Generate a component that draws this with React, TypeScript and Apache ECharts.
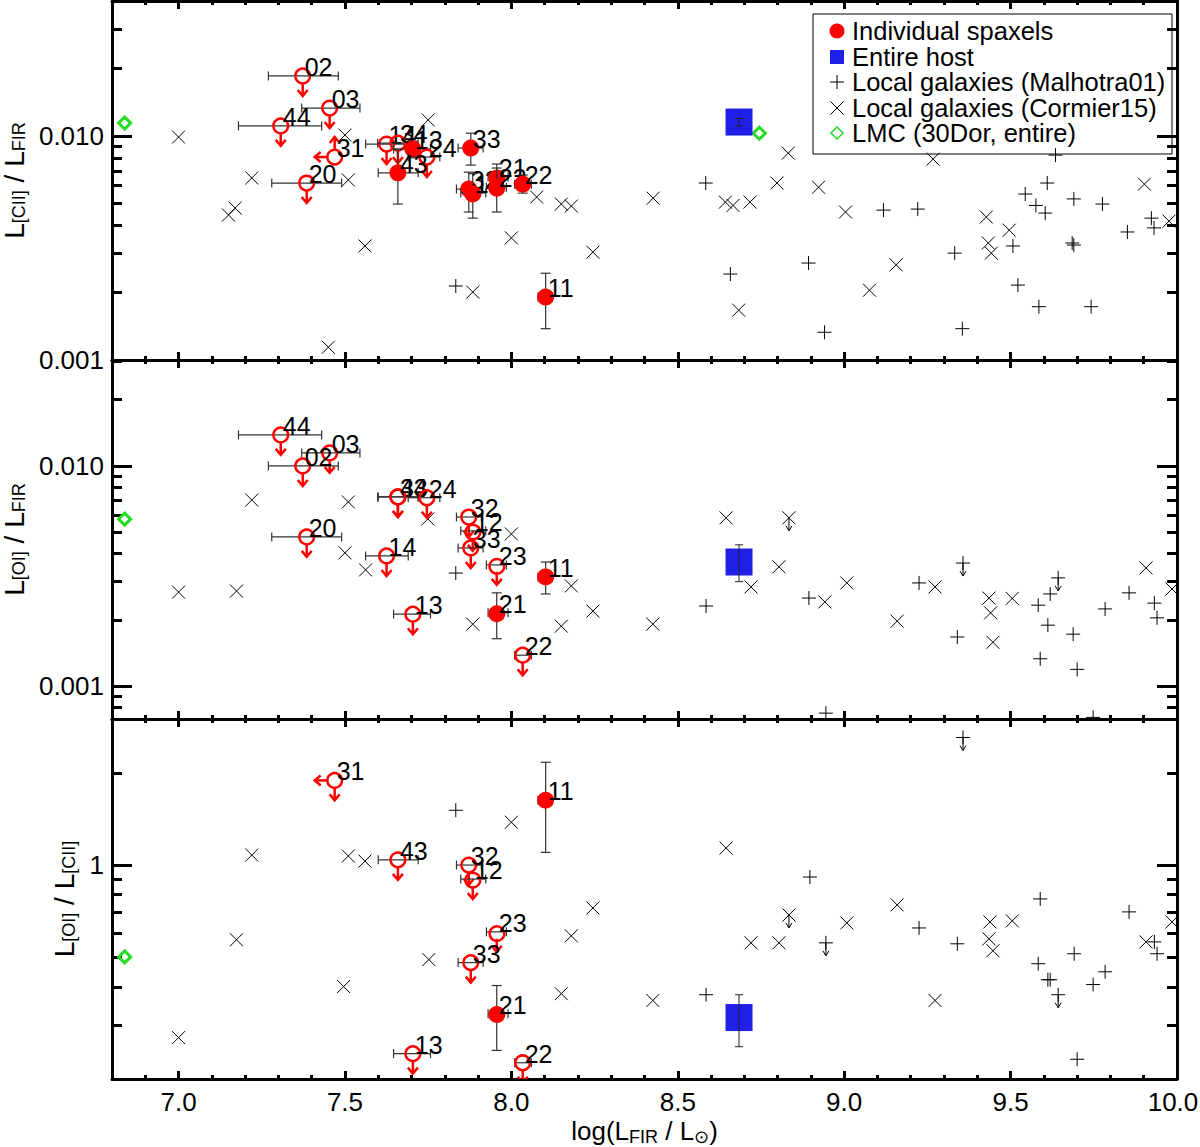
import React, { useEffect, useRef } from "react";
import * as echarts from "echarts";

// ---------------- ticks / ranges ----------------
const xRange = [6.8, 10.0];
const xMajorTicks = [7.0, 7.5, 8.0, 8.5, 9.0, 9.5, 10.0];
const xMinorTicks = [6.9, 7.1, 7.2, 7.3, 7.4, 7.6, 7.7, 7.8, 7.9, 8.1, 8.2, 8.3, 8.4, 8.6, 8.7, 8.8, 8.9, 9.1, 9.2, 9.3, 9.4, 9.6, 9.7, 9.8, 9.9];

const ciiFirRange = [0.001, 0.0401];
const oiFirRange = [0.000708, 0.0303];
const oiCiiRange = [0.2, 3.0];
const ratioMajorTicks = [0.001, 0.01];
const ratioMinorTicks = [0.0008, 0.0009, 0.002, 0.003, 0.004, 0.005, 0.006, 0.007, 0.008, 0.009, 0.02, 0.03];
const oiCiiMajorTicks = [1];
const oiCiiMinorTicks = [0.3, 0.4, 0.5, 0.6, 0.7, 0.8, 0.9, 2];

// ---------------- spaxels (log L_FIR) ----------------
const spaxelIds = ["02", "03", "11", "12", "13", "14", "20", "21", "22", "23", "24", "31", "32", "33", "34", "43", "44"];
const spaxelLogLfir = [7.373, 7.454, 8.103, 7.884, 7.704, 7.625, 7.385, 7.956, 8.034, 7.956, 7.746, 7.469, 7.872, 7.878, 7.659, 7.659, 7.307];
const spaxelLfirLo = [7.27, 7.37, 8.08, 7.848, 7.646, 7.562, 7.28, 7.93, 8.01, 7.925, 7.69, null, 7.835, 7.84, 7.598, 7.6, 7.18];
const spaxelLfirHi = [7.48, 7.545, 8.12, 7.923, 7.757, 7.69, 7.49, 7.99, 8.06, 7.985, 7.785, null, 7.91, 7.915, 7.72, 7.72, 7.43];

// L[CII]/L_FIR
const ciiFirIds = ["02", "03", "44", "31", "20", "14", "34", "13", "24", "43", "33", "32", "12", "21", "23", "22", "11"];
const ciiFirVals = [0.01855, 0.01334, 0.0111, 0.00806, 0.00617, 0.00921, 0.0093, 0.00875, 0.00806, 0.00685, 0.00884, 0.0058, 0.00557, 0.00656, 0.00591, 0.0061, 0.00191];
const ciiFirKind = ["ul", "ul", "ul", "ll_xul", "ul", "ul", "ul", "det", "ul", "det", "det", "det", "det", "det", "det", "det", "det"];
const ciiFirErrLo = [null, null, null, null, null, null, null, 0.008, null, 0.00497, 0.00742, 0.00458, 0.0043, 0.0057, 0.00458, 0.00556, 0.00138];
const ciiFirErrHi = [null, null, null, null, null, null, null, 0.0095, null, 0.00873, 0.0103, 0.0069, 0.0068, 0.0075, 0.0072, 0.0067, 0.00244];

// L[OI]/L_FIR
const oiFirIds = ["44", "03", "02", "34", "43", "24", "20", "32", "12", "33", "14", "23", "11", "13", "21", "22"];
const oiFirVals = [0.01384, 0.01146, 0.01, 0.00723, 0.00723, 0.00717, 0.00476, 0.00586, 0.00507, 0.00424, 0.0039, 0.00355, 0.00313, 0.00212, 0.00215, 0.00138];
const oiFirKind = ["ul", "ul", "ul", "ul", "ul", "ul", "ul", "ul", "ul", "ul", "ul", "ul", "det", "ul", "det", "ul"];
const oiFirErrLo = [null, null, null, null, null, null, null, null, null, null, null, null, 0.00262, null, 0.00164, null];
const oiFirErrHi = [null, null, null, null, null, null, null, null, null, null, null, null, 0.00366, null, 0.00265, null];

// L[OI]/L[CII]
const oiCiiIds = ["31", "43", "32", "12", "11", "23", "33", "21", "13", "22"];
const oiCiiVals = [1.89, 1.04, 1.0, 0.9, 1.628, 0.605, 0.48, 0.327, 0.242, 0.226];
const oiCiiKind = ["ul_xul", "ul", "ul", "ul", "det", "ul", "ul", "det", "ul", "ul"];
const oiCiiErrLo = [null, null, null, null, 1.1, null, null, 0.248, null, null];
const oiCiiErrHi = [null, null, null, null, 2.166, null, null, 0.404, null, null];

// ---------------- entire host ----------------
const hostLogLfir = 8.684;
const hostVals = [0.01155, 0.00366, 0.3175];
const hostErrLo = [0.0111, 0.00298, 0.255];
const hostErrHi = [0.012, 0.00438, 0.377];

// ---------------- LMC (30Dor) ----------------
const lmcCiiFir = [[6.838, 0.01143], [8.745, 0.0103]];
const lmcOiFir = [[6.838, 0.00573]];
const lmcOiCii = [[6.838, 0.501]];

// ---------------- Cormier15 (x, y, upper limit) ----------------
const corCiiFir = [
  [7.0, 0.0099, 0], [7.22, 0.0065, 0], [7.17, 0.00477, 0], [7.15, 0.00444, 0], [7.5, 0.0101, 0], [7.51, 0.00637, 0],
  [7.56, 0.00323, 0], [7.45, 0.00114, 0], [7.75, 0.0118, 0], [8.076, 0.00534, 0], [8.15, 0.00497, 0], [8.18, 0.00487, 0],
  [8.0, 0.00351, 0], [8.245, 0.00303, 0], [7.884, 0.00201, 0], [8.426, 0.00528, 0], [8.643, 0.00507, 0], [8.666, 0.0049, 0],
  [8.717, 0.00507, 0], [8.798, 0.00617, 0], [8.832, 0.00839, 0], [8.923, 0.00591, 0], [9.004, 0.00458, 0], [8.683, 0.00167, 0],
  [9.076, 0.00205, 0], [9.156, 0.00266, 0], [9.267, 0.00789, 0], [9.427, 0.00435, 0], [9.496, 0.0038, 0], [9.433, 0.00333, 0],
  [9.442, 0.003, 0], [9.902, 0.0061, 0], [9.976, 0.00417, 0],
];
const corOiFir = [
  [7.22, 0.007, 0], [7.51, 0.00686, 0], [7.0, 0.00267, 0], [7.174, 0.0027, 0], [7.5, 0.00403, 0], [7.562, 0.00337, 0],
  [7.749, 0.00574, 0], [8.0, 0.00491, 0], [8.18, 0.00285, 0], [8.245, 0.00219, 0], [7.884, 0.00191, 0], [8.15, 0.00187, 0],
  [8.425, 0.00191, 0], [8.645, 0.00581, 0], [8.834, 0.00581, 1], [8.804, 0.00348, 0], [8.72, 0.00282, 0], [8.942, 0.00241, 0],
  [9.008, 0.00294, 0], [9.159, 0.00197, 0], [9.273, 0.00282, 0], [9.435, 0.00251, 0], [9.44, 0.00215, 0], [9.447, 0.00158, 0],
  [9.505, 0.0025, 0], [9.907, 0.00344, 0], [9.985, 0.00276, 0],
];
const corOiCii = [
  [7.22, 1.078, 0], [7.51, 1.07, 0], [7.56, 1.03, 0], [7.174, 0.57, 0], [7.496, 0.401, 0], [7.0, 0.273, 0],
  [8.0, 1.38, 0], [7.752, 0.491, 0], [8.245, 0.724, 0], [8.18, 0.587, 0], [8.15, 0.38, 0], [8.425, 0.361, 0],
  [8.645, 1.136, 0], [8.834, 0.687, 1], [8.72, 0.557, 0], [8.804, 0.557, 0], [9.008, 0.647, 0], [9.159, 0.741, 0],
  [9.273, 0.361, 0], [9.438, 0.652, 0], [9.435, 0.574, 0], [9.447, 0.525, 0], [9.505, 0.657, 0], [9.907, 0.561, 0],
  [9.985, 0.652, 0],
];

// ---------------- Malhotra01 (x, y, upper limit) ----------------
const malCiiFir = [
  [7.833, 0.00214, 0], [8.584, 0.00617, 0], [8.658, 0.00242, 0], [8.893, 0.00271, 0], [8.941, 0.00133, 0], [9.118, 0.00467, 0],
  [9.221, 0.00472, 0], [9.332, 0.003, 0], [9.355, 0.00138, 0], [9.507, 0.00323, 0], [9.522, 0.00216, 0], [9.544, 0.00551, 0],
  [9.576, 0.0049, 0], [9.604, 0.00453, 0], [9.61, 0.00617, 0], [9.635, 0.00822, 0], [9.585, 0.00173, 0], [9.685, 0.00333, 0],
  [9.69, 0.00326, 0], [9.69, 0.00524, 0], [9.742, 0.00173, 0], [9.776, 0.00497, 0], [9.851, 0.00373, 0], [9.923, 0.0043, 0],
  [9.931, 0.00389, 0],
];
const malOiFir = [
  [7.833, 0.00326, 0], [8.585, 0.00231, 0], [8.894, 0.00251, 0], [9.225, 0.00294, 0], [9.357, 0.00362, 1], [9.34, 0.00167, 0],
  [9.583, 0.00233, 0], [9.619, 0.00262, 0], [9.643, 0.0031, 1], [9.612, 0.00189, 0], [9.589, 0.00133, 0], [9.688, 0.00172, 0],
  [9.7, 0.00119, 0], [9.784, 0.00224, 0], [9.856, 0.00265, 0], [9.932, 0.00238, 0], [9.94, 0.00204, 0], [8.945, 0.000753, 0],
  [9.748, 0.00072, 0],
];
const malOiCii = [
  [7.833, 1.51, 0], [8.585, 0.377, 0], [8.897, 0.914, 0], [8.945, 0.557, 1], [9.225, 0.623, 0], [9.34, 0.553, 0],
  [9.357, 2.61, 1], [9.589, 0.775, 0], [9.583, 0.476, 0], [9.612, 0.422, 0], [9.619, 0.422, 0], [9.643, 0.377, 1],
  [9.691, 0.513, 0], [9.7, 0.232, 0], [9.748, 0.407, 0], [9.784, 0.448, 0], [9.856, 0.703, 0], [9.932, 0.561, 0],
  [9.94, 0.513, 0],
];

// ---------------- styling ----------------
const FONT = '"Liberation Sans", Arial, Helvetica, sans-serif';
const RED = "#ff0000";
const BLUE = "#1f1fe8";
const GREEN = "#22dd22";
const ERR = "#333333";

const GRID_LEFT = 112;
const GRID_WIDTH = 1065;
const gridTops = [1, 360, 719];
const gridHeights = [359, 359, 360];

const yRanges = [ciiFirRange, oiFirRange, oiCiiRange];
const yMajors = [ratioMajorTicks, ratioMajorTicks, oiCiiMajorTicks];
const yMinors = [ratioMinorTicks, ratioMinorTicks, oiCiiMinorTicks];
const yNames = ["L{s|[CII]} / L{s|FIR}", "L{s|[OI]} / L{s|FIR}", "L{s|[OI]} / L{s|[CII]}"];
const yNameGaps = [83, 83, 34];

const yNameStyle = {
  fontSize: 28,
  fontFamily: FONT,
  color: "#000",
  lineHeight: 28,
  rich: { s: { fontSize: 18, lineHeight: 12, verticalAlign: "bottom", fontFamily: FONT, color: "#000" } },
};
const xNameStyle = {
  fontSize: 26,
  fontFamily: FONT,
  color: "#000",
  lineHeight: 30,
  rich: { s: { fontSize: 18, lineHeight: 14, verticalAlign: "bottom", fontFamily: FONT, color: "#000" } },
};

function ln(x1: number, y1: number, x2: number, y2: number, stroke: string, lineWidth: number) {
  return { type: "line", shape: { x1, y1, x2, y2 }, style: { stroke, lineWidth } };
}

function xAxesFor(g: number) {
  const common: any = {
    type: "value", gridIndex: g, min: xRange[0], max: xRange[1],
    splitLine: { show: false }, axisLabel: { show: false },
    axisLine: { show: false, onZero: false }, axisTick: { show: false },
  };
  const tickStyle = { color: "#000", width: 3 };
  const line = { show: true, onZero: false, lineStyle: { color: "#000", width: 3 } };
  const bottom = g === 2;
  const main: any = {
    ...common, position: "bottom", axisLine: line,
    axisTick: { show: true, inside: true, length: 8, lineStyle: tickStyle, customValues: xMajorTicks },
    axisLabel: {
      show: bottom, customValues: xMajorTicks,
      formatter: (v: number) => (v >= xRange[1] - 1e-9 ? "{e|" + v.toFixed(1) + "}" : v.toFixed(1)),
      fontSize: 26, color: "#000", fontFamily: FONT, margin: 10,
      rich: { e: { fontSize: 26, color: "#000", fontFamily: FONT, padding: [0, 8, 0, 0] } },
    },
  };
  if (bottom) {
    main.name = "log(L{s|FIR} / L{s|\u2299})";
    main.nameLocation = "middle";
    main.nameGap = 36;
    main.nameTextStyle = xNameStyle;
  }
  return [
    main,
    { ...common, position: "bottom", axisTick: { show: true, inside: true, length: 4, lineStyle: tickStyle, customValues: xMinorTicks } },
    { ...common, position: "top", axisLine: line, axisTick: { show: true, inside: true, length: 8, lineStyle: tickStyle, customValues: xMajorTicks } },
    { ...common, position: "top", axisTick: { show: true, inside: true, length: 4, lineStyle: tickStyle, customValues: xMinorTicks } },
  ];
}

function yAxesFor(g: number) {
  const common: any = {
    type: "log", logBase: 10, gridIndex: g, min: yRanges[g][0], max: yRanges[g][1],
    splitLine: { show: false }, axisLabel: { show: false },
    axisLine: { show: false, onZero: false }, axisTick: { show: false },
  };
  const tickStyle = { color: "#000", width: 3 };
  const line = { show: true, onZero: false, lineStyle: { color: "#000", width: 3 } };
  const fmt = g < 2 ? (v: number) => v.toFixed(3) : (v: number) => String(Math.round(v));
  return [
    {
      ...common, position: "left", axisLine: line,
      axisTick: { show: true, inside: true, length: 20, lineStyle: tickStyle, customValues: yMajors[g] },
      axisLabel: { show: true, customValues: yMajors[g], formatter: fmt, fontSize: 26, color: "#000", fontFamily: FONT, margin: 8 },
      name: yNames[g], nameLocation: "middle", nameRotate: 90, nameGap: yNameGaps[g], nameTextStyle: yNameStyle,
    },
    { ...common, position: "left", axisTick: { show: true, inside: true, length: 10, lineStyle: tickStyle, customValues: yMinors[g] } },
    { ...common, position: "right", axisLine: line, axisTick: { show: true, inside: true, length: 20, lineStyle: tickStyle, customValues: yMajors[g] } },
    { ...common, position: "right", axisTick: { show: true, inside: true, length: 10, lineStyle: tickStyle, customValues: yMinors[g] } },
  ];
}

function blackArrow(cx: number, cy: number) {
  return [
    ln(cx, cy, cx, cy + 13, "#000", 1),
    { type: "polyline", shape: { points: [[cx - 3, cy + 8], [cx, cy + 13], [cx + 3, cy + 8]] }, style: { stroke: "#000", lineWidth: 1, fill: "none" } },
  ];
}

function renderCross(params: any, api: any) {
  const [cx, cy] = api.coord([api.value(0), api.value(1)]);
  const s = 6.5;
  const children: any[] = [ln(cx - s, cy - s, cx + s, cy + s, "#000", 1), ln(cx - s, cy + s, cx + s, cy - s, "#000", 1)];
  if (api.value(2)) children.push(...blackArrow(cx, cy));
  return { type: "group", children };
}

function renderPlus(params: any, api: any) {
  const [cx, cy] = api.coord([api.value(0), api.value(1)]);
  const s = 7;
  const children: any[] = [ln(cx - s, cy, cx + s, cy, "#000", 1), ln(cx, cy - s, cx, cy + s, "#000", 1)];
  if (api.value(2)) children.push(...blackArrow(cx, cy));
  return { type: "group", children };
}

function renderDiamond(params: any, api: any) {
  const [cx, cy] = api.coord([api.value(0), api.value(1)]);
  const s = 6;
  return {
    type: "polygon",
    shape: { points: [[cx, cy - s], [cx + s, cy], [cx, cy + s], [cx - s, cy]] },
    style: { fill: "none", stroke: GREEN, lineWidth: 3 },
  };
}

function makeHostRender(g: number) {
  return (params: any, api: any) => {
    const [cx, cy] = api.coord([api.value(0), api.value(1)]);
    const yl = api.coord([hostLogLfir, hostErrLo[g]])[1];
    const yh = api.coord([hostLogLfir, hostErrHi[g]])[1];
    const h = 13.5;
    return {
      type: "group",
      children: [
        { type: "rect", shape: { x: cx - h, y: cy - h, width: 2 * h, height: 2 * h }, style: { fill: BLUE } },
        ln(cx, yl, cx, yh, "#222", 1),
        ln(cx - 4, yl, cx + 4, yl, "#222", 1),
        ln(cx - 4, yh, cx + 4, yh, "#222", 1),
      ],
    };
  };
}

function redArrow(cx: number, cy: number, dir: string) {
  const L = 20, r = 7, hw = 5, hl = 6;
  if (dir === "down")
    return [ln(cx, cy + r, cx, cy + L, RED, 2.5), { type: "polyline", shape: { points: [[cx - hw, cy + L - hl], [cx, cy + L], [cx + hw, cy + L - hl]] }, style: { stroke: RED, lineWidth: 2.5, fill: "none" } }];
  if (dir === "up")
    return [ln(cx, cy - r, cx, cy - L, RED, 2.5), { type: "polyline", shape: { points: [[cx - hw, cy - L + hl], [cx, cy - L], [cx + hw, cy - L + hl]] }, style: { stroke: RED, lineWidth: 2.5, fill: "none" } }];
  return [ln(cx - r, cy, cx - L, cy, RED, 2.5), { type: "polyline", shape: { points: [[cx - L + hl, cy - hw], [cx - L, cy], [cx - L + hl, cy + hw]] }, style: { stroke: RED, lineWidth: 2.5, fill: "none" } }];
}

function makeSpaxelRender(ids: string[], kinds: string[], lo: (number | null)[], hi: (number | null)[]) {
  return (params: any, api: any) => {
    const i = params.dataIndex;
    const x = api.value(0), y = api.value(1);
    const [cx, cy] = api.coord([x, y]);
    const k = spaxelIds.indexOf(ids[i]);
    const children: any[] = [];
    const xl = spaxelLfirLo[k], xh = spaxelLfirHi[k];
    if (xl != null && xh != null) {
      const x1 = api.coord([xl, y])[0], x2 = api.coord([xh, y])[0];
      children.push(ln(x1, cy, x2, cy, ERR, 1.2), ln(x1, cy - 4.5, x1, cy + 4.5, ERR, 1.2), ln(x2, cy - 4.5, x2, cy + 4.5, ERR, 1.2));
    }
    if (lo[i] != null && hi[i] != null) {
      const y1 = api.coord([x, lo[i]])[1], y2 = api.coord([x, hi[i]])[1];
      children.push(ln(cx, y1, cx, y2, ERR, 1.2), ln(cx - 5, y1, cx + 5, y1, ERR, 1.2), ln(cx - 5, y2, cx + 5, y2, ERR, 1.2));
    }
    const kind = kinds[i];
    if (kind === "det") {
      children.push({ type: "circle", shape: { cx, cy, r: 8.5 }, style: { fill: RED } });
    } else {
      children.push({ type: "circle", shape: { cx, cy, r: 7.3 }, style: { fill: "none", stroke: RED, lineWidth: 2.5 } });
      if (kind === "ul" || kind === "ul_xul") children.push(...redArrow(cx, cy, "down"));
      if (kind === "ll_xul") children.push(...redArrow(cx, cy, "up"));
      if (kind === "ll_xul" || kind === "ul_xul") children.push(...redArrow(cx, cy, "left"));
    }
    children.push({
      type: "text", x: cx + 2, y: cy - 9,
      style: { text: ids[i], fill: "#000", fontSize: 25, fontFamily: FONT, align: "left", verticalAlign: "middle" },
    });
    return { type: "group", children };
  };
}

const panelSpaxels = [
  { ids: ciiFirIds, vals: ciiFirVals, kinds: ciiFirKind, lo: ciiFirErrLo, hi: ciiFirErrHi },
  { ids: oiFirIds, vals: oiFirVals, kinds: oiFirKind, lo: oiFirErrLo, hi: oiFirErrHi },
  { ids: oiCiiIds, vals: oiCiiVals, kinds: oiCiiKind, lo: oiCiiErrLo, hi: oiCiiErrHi },
];
const panelCormier = [corCiiFir, corOiFir, corOiCii];
const panelMalhotra = [malCiiFir, malOiFir, malOiCii];
const panelLmc = [lmcCiiFir, lmcOiFir, lmcOiCii];

function seriesFor(g: number) {
  const axes = { xAxisIndex: g * 4, yAxisIndex: g * 4, coordinateSystem: "cartesian2d", clip: true };
  const sp = panelSpaxels[g];
  return [
    { ...axes, type: "custom", name: "Local galaxies (Cormier15)", data: panelCormier[g], renderItem: renderCross, z: 2 },
    { ...axes, type: "custom", name: "Local galaxies (Malhotra01)", data: panelMalhotra[g], renderItem: renderPlus, z: 2 },
    { ...axes, type: "custom", name: "LMC (30Dor, entire)", data: panelLmc[g], renderItem: renderDiamond, z: 3 },
    { ...axes, type: "custom", name: "Entire host", data: [[hostLogLfir, hostVals[g]]], renderItem: makeHostRender(g), z: 4 },
    {
      ...axes, type: "custom", name: "Individual spaxels",
      data: sp.ids.map((id, i) => [spaxelLogLfir[spaxelIds.indexOf(id)], sp.vals[i]]),
      renderItem: makeSpaxelRender(sp.ids, sp.kinds, sp.lo, sp.hi), z: 5,
    },
  ];
}

const legendRows = [
  { label: "Individual spaxels", y: 31 },
  { label: "Entire host", y: 57 },
  { label: "Local galaxies (Malhotra01)", y: 82 },
  { label: "Local galaxies (Cormier15)", y: 108 },
  { label: "LMC (30Dor, entire)", y: 133 },
];

function legendGraphic() {
  const sx = 837, tx = 852;
  const els: any[] = [
    { type: "rect", shape: { x: 813, y: 14, width: 359, height: 140 }, style: { fill: "none", stroke: "#000", lineWidth: 1 } },
    { type: "circle", shape: { cx: sx, cy: legendRows[0].y, r: 7.5 }, style: { fill: RED } },
    { type: "rect", shape: { x: sx - 7, y: legendRows[1].y - 7, width: 14, height: 14 }, style: { fill: BLUE } },
    ln(sx - 7, legendRows[2].y, sx + 7, legendRows[2].y, "#000", 1),
    ln(sx, legendRows[2].y - 7, sx, legendRows[2].y + 7, "#000", 1),
    ln(sx - 6.5, legendRows[3].y - 6.5, sx + 6.5, legendRows[3].y + 6.5, "#000", 1),
    ln(sx - 6.5, legendRows[3].y + 6.5, sx + 6.5, legendRows[3].y - 6.5, "#000", 1),
    {
      type: "polygon",
      shape: { points: [[sx, legendRows[4].y - 6], [sx + 6, legendRows[4].y], [sx, legendRows[4].y + 6], [sx - 6, legendRows[4].y]] },
      style: { fill: "none", stroke: GREEN, lineWidth: 1.5 },
    },
  ];
  legendRows.forEach((r) => {
    els.push({ type: "text", x: tx, y: r.y, style: { text: r.label, fill: "#000", fontSize: 25.5, fontFamily: FONT, align: "left", verticalAlign: "middle" } });
  });
  return els.map((e) => ({ ...e, z: 100 }));
}

export default function App() {
  const ref = useRef<HTMLDivElement>(null);
  useEffect(() => {
    document.body.style.margin = "0";
    if (!ref.current) return;
    const chart = echarts.init(ref.current, null, { renderer: "svg" });
    const option: any = {
      animation: false,
      backgroundColor: "#fff",
      textStyle: { fontFamily: FONT },
      grid: gridTops.map((t, i) => ({
        left: GRID_LEFT, top: t, width: GRID_WIDTH, height: gridHeights[i], containLabel: false, outerBoundsMode: "none",
      })),
      xAxis: [0, 1, 2].flatMap((g) => xAxesFor(g)),
      yAxis: [0, 1, 2].flatMap((g) => yAxesFor(g)),
      series: [0, 1, 2].flatMap((g) => seriesFor(g)),
      graphic: legendGraphic(),
    };
    chart.setOption(option);
    return () => chart.dispose();
  }, []);
  return <div ref={ref} style={{ width: 1200, height: 1147, position: "absolute", left: 0, top: 0 }} />;
}
